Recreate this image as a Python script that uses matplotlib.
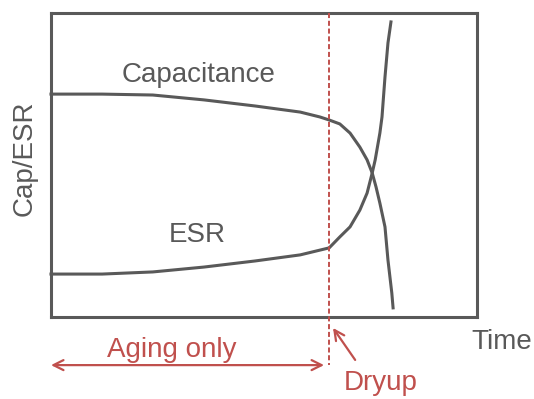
import numpy as np
import matplotlib
matplotlib.use('Agg')
import matplotlib.pyplot as plt

plt.rcParams['font.family'] = ['Liberation Sans', 'DejaVu Sans']

grey = '#595959'
red = '#c0504d'

# Capacitance curve (time, value), both normalised to 0..1
cap_t = [0.0, 0.120, 0.239, 0.359, 0.479, 0.585, 0.631, 0.653, 0.678, 0.702,
         0.725, 0.742, 0.754, 0.763, 0.772, 0.784, 0.791, 0.800, 0.803]
cap_v = [0.732, 0.732, 0.729, 0.713, 0.693, 0.673, 0.657, 0.647, 0.634, 0.604,
         0.558, 0.516, 0.473, 0.427, 0.374, 0.296, 0.187, 0.079, 0.030]

# ESR curve
esr_t = [0.0, 0.120, 0.239, 0.359, 0.479, 0.585, 0.653, 0.678, 0.702, 0.725,
         0.742, 0.754, 0.761, 0.772, 0.777, 0.784, 0.791, 0.798]
esr_v = [0.141, 0.141, 0.148, 0.164, 0.184, 0.204, 0.227, 0.263, 0.296, 0.351,
         0.407, 0.473, 0.516, 0.604, 0.657, 0.788, 0.900, 0.969]

dryup_t = 0.653

fig = plt.figure(figsize=(5.34, 3.99), dpi=100)
ax = fig.add_axes([51/534, (399-317)/399, 426/534, 304.5/399])
ax.set_xlim(0, 1)
ax.set_ylim(0, 1)
ax.set_xticks([])
ax.set_yticks([])
for s in ax.spines.values():
    s.set_color(grey)
    s.set_linewidth(2.2)

ax.plot(cap_t, cap_v, color=grey, lw=2.2, solid_joinstyle='round', clip_on=False)
ax.plot(esr_t, esr_v, color=grey, lw=2.2, solid_joinstyle='round', clip_on=False)

# dry-up marker line, running below the axes
ax.plot([dryup_t, dryup_t], [1.0, -0.158], color=red, lw=1.4,
        dashes=(2.6, 1.4), clip_on=False, zorder=5)

ax.text(0.347, 0.795, 'Capacitance', color=grey, fontsize=20, ha='center', va='center')
ax.text(0.343, 0.269, 'ESR', color=grey, fontsize=20, ha='center', va='center')
ax.text(-0.061, 0.522, 'Cap/ESR', color=grey, fontsize=20, ha='center', va='center',
        rotation=90, clip_on=False)
ax.text(1.059, -0.082, 'Time', color=grey, fontsize=20, ha='center', va='center',
        clip_on=False)

ax.annotate('', xy=(0.0, -0.158), xytext=(0.641, -0.158),
            arrowprops=dict(arrowstyle='<->', color=red, lw=1.6,
                            mutation_scale=18, shrinkA=0, shrinkB=0),
            annotation_clip=False)
ax.text(0.284, -0.108, 'Aging only', color=red, fontsize=20, ha='center', va='center',
        clip_on=False)

ax.annotate('', xy=(0.662, -0.036), xytext=(0.714, -0.141),
            arrowprops=dict(arrowstyle='->', color=red, lw=1.6,
                            mutation_scale=18, shrinkA=0, shrinkB=0),
            annotation_clip=False)
ax.text(0.775, -0.217, 'Dryup', color=red, fontsize=20, ha='center', va='center',
        clip_on=False)

fig.savefig('out.png', dpi=100)
